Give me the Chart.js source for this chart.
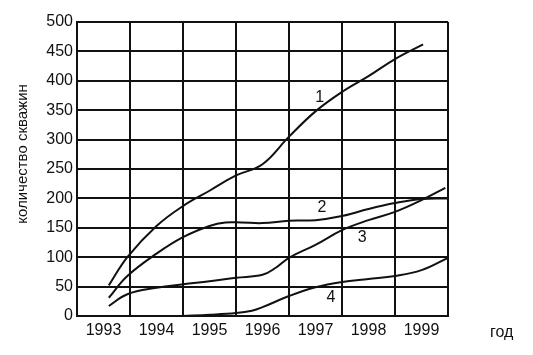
<!DOCTYPE html>
<html>
<head>
<meta charset="utf-8">
<script src="https://cdn.jsdelivr.net/npm/chart.js@4/dist/chart.umd.min.js"></script>
<style>
  body { margin: 0; background: #fff; }
  #wrap { width: 533px; height: 355px; }
</style>
</head>
<body>
<div id="wrap"><canvas id="chart" width="533" height="355"></canvas></div>
<script>
// data
const years = [1993, 1994, 1995, 1996, 1997, 1998, 1999];
const yTicks = [0, 50, 100, 150, 200, 250, 300, 350, 400, 450, 500];

const s1x = [1993.1, 1993.45, 1994, 1994.5, 1995, 1995.5, 1996, 1996.5, 1997, 1997.5, 1998, 1998.5, 1999.03];
const s1y = [52, 100, 153, 187, 213, 239, 258, 305, 348, 381, 408, 437, 462];

const s2x = [1993.1, 1993.45, 1994, 1994.5, 1995, 1995.3, 1995.6, 1996, 1996.5, 1997, 1997.5, 1998, 1998.5, 1999, 1999.5];
const s2y = [31, 68, 106, 134, 153, 159, 159, 158, 162, 163, 170, 182, 192, 199, 200];

const s3x = [1993.1, 1993.45, 1994, 1994.5, 1995, 1995.5, 1996, 1996.25, 1996.5, 1997, 1997.5, 1998, 1998.5, 1999, 1999.45];
const s3y = [17, 37, 48, 54, 59, 65, 70, 82, 99, 121, 146, 163, 177, 197, 218];

const s4x = [1994.5, 1995, 1995.5, 1995.8, 1996, 1996.5, 1997, 1997.5, 1998, 1998.5, 1999, 1999.5];
const s4y = [0, 2, 5, 9, 15, 34, 49, 58, 63, 68, 78, 99];

// curve numbers, placed in data coordinates
const curveNames = ['1', '2', '3', '4'];
const nameX = [1997.08, 1997.12, 1997.88, 1997.29];
const nameY = [372, 184, 133, 31];

const yTitle = 'количество скважин';
const xTitle = 'год';

const FONT = '"Liberation Sans", Arial, sans-serif';
const INK = '#111';

function pts(xs, ys) {
  return xs.map((x, i) => ({ x: x, y: ys[i] }));
}

function series(xs, ys) {
  return {
    data: pts(xs, ys),
    borderColor: INK,
    borderWidth: 2,
    pointRadius: 0,
    fill: false,
    tension: 0.4
  };
}

// half-year grid lines, labels on whole years
const xTickValues = [];
years.forEach(y => { xTickValues.push(y - 0.5, y); });
xTickValues.push(years[years.length - 1] + 0.5);

const textPlugin = {
  id: 'texts',
  afterDraw(chart) {
    const ctx = chart.ctx;
    const xs = chart.scales.x, ys = chart.scales.y;
    ctx.save();
    ctx.fillStyle = INK;
    ctx.font = '16px ' + FONT;
    ctx.textAlign = 'center';
    ctx.textBaseline = 'middle';
    curveNames.forEach((n, i) => {
      ctx.fillText(n, xs.getPixelForValue(nameX[i]), ys.getPixelForValue(nameY[i]));
    });
    ctx.textAlign = 'left';
    ctx.textBaseline = 'alphabetic';
    ctx.fillText(xTitle, 490, 337);
    ctx.translate(23, 154);
    ctx.rotate(-Math.PI / 2);
    ctx.font = '15px ' + FONT;
    ctx.textAlign = 'center';
    ctx.textBaseline = 'middle';
    ctx.fillText(yTitle, 0, 0);
    ctx.restore();
  }
};

new Chart(document.getElementById('chart').getContext('2d'), {
  type: 'line',
  data: {
    datasets: [series(s1x, s1y), series(s2x, s2y), series(s3x, s3y), series(s4x, s4y)]
  },
  options: {
    responsive: false,
    animation: false,
    layout: { padding: { left: 0, right: 85, top: 22, bottom: 0 } },
    plugins: { legend: { display: false }, tooltip: { enabled: false } },
    scales: {
      x: {
        type: 'linear',
        min: years[0] - 0.5,
        max: years[years.length - 1] + 0.5,
        afterBuildTicks: axis => { axis.ticks = xTickValues.map(v => ({ value: v })); },
        afterFit: axis => { axis.height = 39; },
        grid: {
          drawTicks: false,
          lineWidth: 2,
          color: c => (c.tick && Number.isInteger(c.tick.value)) ? 'rgba(0,0,0,0)' : INK
        },
        border: { color: INK, width: 2 },
        ticks: {
          autoSkip: false,
          maxRotation: 0,
          padding: 5,
          color: INK,
          font: { size: 16, family: FONT },
          callback: v => Number.isInteger(v) && years.includes(v) ? String(v) : ''
        }
      },
      y: {
        min: 0,
        max: 500,
        afterBuildTicks: axis => { axis.ticks = yTicks.map(v => ({ value: v })); },
        afterFit: axis => { axis.width = 77; },
        grid: { drawTicks: false, lineWidth: 2, color: INK },
        border: { color: INK, width: 2 },
        ticks: {
          padding: 4,
          color: INK,
          font: { size: 16, family: FONT }
        }
      }
    }
  },
  plugins: [textPlugin]
});
</script>
</body>
</html>
